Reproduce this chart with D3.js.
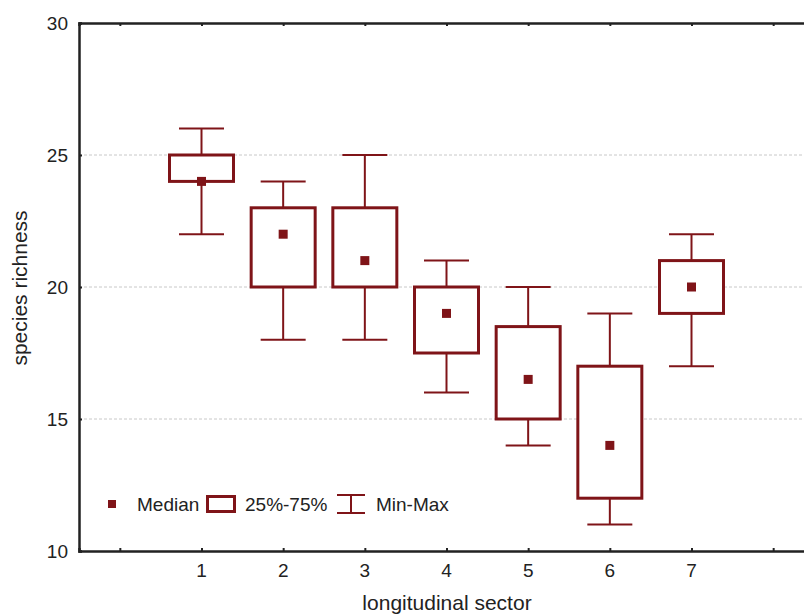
<!DOCTYPE html>
<meta charset="utf-8">
<style>
body { margin: 0; background: #fff; }
text { font-family: "Liberation Sans", Arial, sans-serif; fill: #222; }
</style>
<body>
<script src="https://d3js.org/d3.v7.min.js"></script>
<script>
// box plot values per sector
let sectors = [1, 2, 3, 4, 5, 6, 7];
let mins    = [22, 18, 18, 16, 14, 11, 17];
let q1s     = [24, 20, 20, 17.5, 15, 12, 19];
let medians = [24, 22, 21, 19, 16.5, 14, 20];
let q3s     = [25, 23, 23, 20, 18.5, 17, 21];
let maxs    = [26, 24, 25, 21, 20, 19, 22];
let yTicks  = [10, 15, 20, 25, 30];
let xTicks  = [0, 1, 2, 3, 4, 5, 6, 7, 8];

let width = 804, height = 615;
let plotL = 79, plotT = 23, plotB = 551, plotR = 814;
let red = '#7f1418';

let x = d3.scaleLinear().domain([-0.5, 8.5]).range([plotL, plotR]);
let y = d3.scaleLinear().domain([10, 30]).range([plotB, plotT]);

let svg = d3.select('body').append('svg')
	.attr('width', width)
	.attr('height', height);

// grid
svg.append('g').selectAll('line')
	.data([15, 20, 25])
	.enter().append('line')
	.attr('x1', plotL).attr('x2', width)
	.attr('y1', d => y(d)).attr('y2', d => y(d))
	.attr('stroke', '#c8c8c8')
	.attr('stroke-width', 1)
	.attr('stroke-dasharray', '3,2');

// axes (ticks point inward)
let axL = svg.append('g').attr('transform', `translate(${plotL},0)`)
	.call(d3.axisRight(y).tickValues(yTicks).tickSize(3).tickFormat(''));
let axB = svg.append('g').attr('transform', `translate(0,${plotB})`)
	.call(d3.axisTop(x).tickValues(xTicks).tickSize(3).tickFormat(''));
let axT = svg.append('g').attr('transform', `translate(0,${plotT})`)
	.call(d3.axisBottom(x).tickValues(xTicks).tickSize(3).tickFormat(''));
[axL, axB, axT].forEach(a => {
	a.select('.domain').attr('stroke', '#222').attr('stroke-width', 2.5);
	a.selectAll('.tick line').attr('stroke', '#222').attr('stroke-width', 2);
});

// tick labels
svg.append('g').selectAll('text')
	.data(yTicks)
	.enter().append('text')
	.attr('x', 68).attr('y', d => y(d) + 7)
	.attr('text-anchor', 'end')
	.style('font-size', '19px')
	.text(d => d);
svg.append('g').selectAll('text')
	.data(sectors)
	.enter().append('text')
	.attr('x', d => x(d)).attr('y', 577)
	.attr('text-anchor', 'middle')
	.style('font-size', '19px')
	.text(d => d);

// axis titles
svg.append('text')
	.attr('x', 447).attr('y', 610)
	.attr('text-anchor', 'middle')
	.style('font-size', '21px')
	.text('longitudinal sector');
svg.append('text')
	.attr('transform', 'translate(27,288) rotate(-90)')
	.attr('text-anchor', 'middle')
	.style('font-size', '21px')
	.text('species richness');

// boxes
let boxW = 64, capW = 45;
let g = svg.append('g').selectAll('g')
	.data(sectors.map((s, i) => ({s: s, min: mins[i], q1: q1s[i], med: medians[i], q3: q3s[i], max: maxs[i]})))
	.enter().append('g');

g.append('line')
	.attr('x1', d => x(d.s)).attr('x2', d => x(d.s))
	.attr('y1', d => y(d.max)).attr('y2', d => y(d.q3))
	.attr('stroke', red).attr('stroke-width', 2);
g.append('line')
	.attr('x1', d => x(d.s)).attr('x2', d => x(d.s))
	.attr('y1', d => y(d.q1)).attr('y2', d => y(d.min))
	.attr('stroke', red).attr('stroke-width', 2);
g.append('line')
	.attr('x1', d => x(d.s) - capW / 2).attr('x2', d => x(d.s) + capW / 2)
	.attr('y1', d => y(d.max)).attr('y2', d => y(d.max))
	.attr('stroke', red).attr('stroke-width', 2);
g.append('line')
	.attr('x1', d => x(d.s) - capW / 2).attr('x2', d => x(d.s) + capW / 2)
	.attr('y1', d => y(d.min)).attr('y2', d => y(d.min))
	.attr('stroke', red).attr('stroke-width', 2);
g.append('rect')
	.attr('x', d => x(d.s) - boxW / 2)
	.attr('y', d => y(d.q3))
	.attr('width', boxW)
	.attr('height', d => y(d.q1) - y(d.q3))
	.attr('fill', '#fff')
	.attr('stroke', red).attr('stroke-width', 3);
g.append('rect')
	.attr('x', d => x(d.s) - 4.5).attr('y', d => y(d.med) - 4.5)
	.attr('width', 9).attr('height', 9)
	.attr('fill', red);

// legend
let lg = svg.append('g').attr('transform', 'translate(0,504)');
lg.append('rect').attr('x', 108).attr('y', -4).attr('width', 8).attr('height', 8).attr('fill', red);
lg.append('text').attr('x', 137).attr('y', 7).style('font-size', '19px').text('Median');
lg.append('rect').attr('x', 207.5).attr('y', -7.5).attr('width', 27).attr('height', 15)
	.attr('fill', '#fff').attr('stroke', red).attr('stroke-width', 3);
lg.append('text').attr('x', 245).attr('y', 7).style('font-size', '19px').text('25%-75%');
lg.append('line').attr('x1', 337).attr('x2', 365).attr('y1', -9).attr('y2', -9).attr('stroke', red).attr('stroke-width', 2);
lg.append('line').attr('x1', 337).attr('x2', 365).attr('y1', 9).attr('y2', 9).attr('stroke', red).attr('stroke-width', 2);
lg.append('line').attr('x1', 351).attr('x2', 351).attr('y1', -9).attr('y2', 9).attr('stroke', red).attr('stroke-width', 2);
lg.append('text').attr('x', 376).attr('y', 7).style('font-size', '19px').text('Min-Max');
</script>
</body>
